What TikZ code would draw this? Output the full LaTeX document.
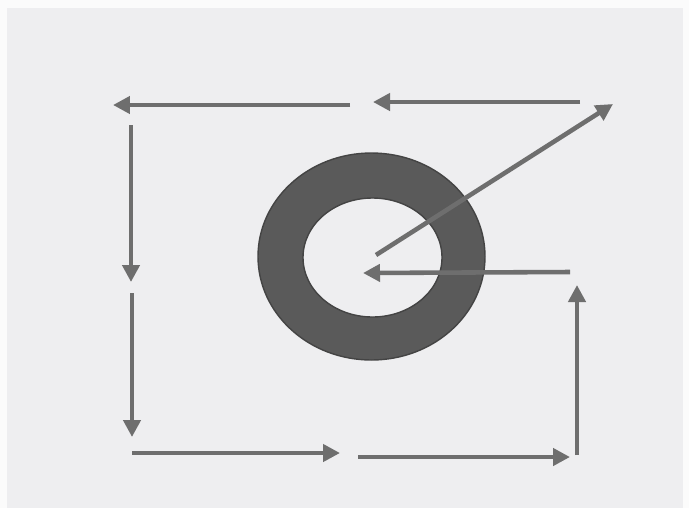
\documentclass[tikz,border=0pt]{standalone}
\usepackage{xcolor}
\usepackage{tikz}
\usetikzlibrary{arrows.meta}
\definecolor{arrgray}{HTML}{6E6E6E}
\definecolor{ringgray}{HTML}{5A5A5A}
\definecolor{bggray}{HTML}{EEEEF0}

\begin{document}
\begin{tikzpicture}[
    x=0.02cm, y=-0.02cm,
    arr/.style={-{Triangle[length=0.34cm, width=0.34cm]}, line width=2.6pt, draw=arrgray},
    ring/.style={fill=ringgray, draw=ringgray!75!black, line width=0.8pt, even odd rule}
]
  % background
  \fill[white!97!gray] (0,0) rectangle (689,508);
  \fill[bggray] (7,8) rectangle (683,508);
  \useasboundingbox (0,0) rectangle (689,508);

  % ring
  \path[ring] (371.5,256.5) ellipse [x radius=113.5, y radius=103.5]
              (372.5,257.5) ellipse [x radius=69.5, y radius=59.5];

  % arrow ends
  \coordinate (top1) at (350,105);  \coordinate (top0) at (113,105);
  \coordinate (top3) at (580,102);  \coordinate (top2) at (373,102);
  \coordinate (lft0) at (131,125);  \coordinate (lft1) at (131,282);
  \coordinate (lft2) at (132,293);  \coordinate (lft3) at (132,437);
  \coordinate (bot0) at (132,453);  \coordinate (bot1) at (340,453);
  \coordinate (bot2) at (358,457);  \coordinate (bot3) at (570,457);
  \coordinate (rgt0) at (577,455);  \coordinate (rgt1) at (577,285);
  \coordinate (mid0) at (570,272);  \coordinate (mid1) at (363,273);
  \coordinate (dia0) at (376,255);  \coordinate (dia1) at (613,104);

  % arrows
  \draw[arr] (top1) -- (top0);
  \draw[arr] (top3) -- (top2);
  \draw[arr] (lft0) -- (lft1);
  \draw[arr] (lft2) -- (lft3);
  \draw[arr] (bot0) -- (bot1);
  \draw[arr] (bot2) -- (bot3);
  \draw[arr] (rgt0) -- (rgt1);
  \draw[arr] (mid0) -- (mid1);
  \draw[arr] (dia0) -- (dia1);
\end{tikzpicture}
\end{document}
